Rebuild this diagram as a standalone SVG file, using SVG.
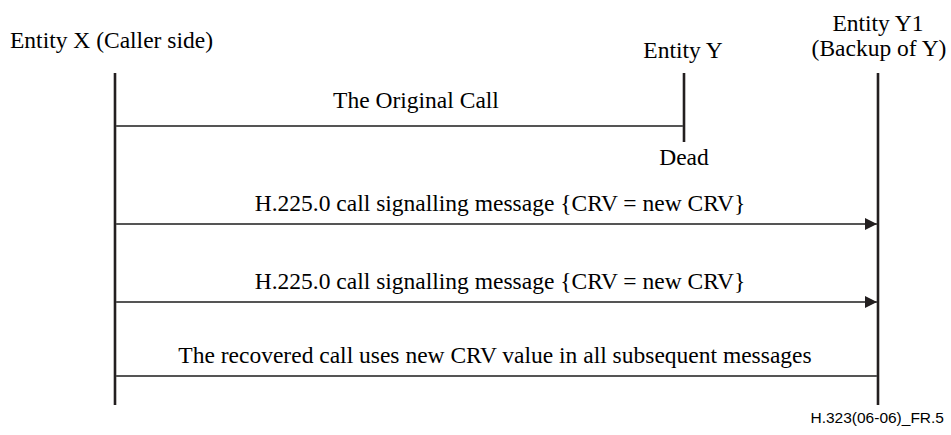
<svg xmlns="http://www.w3.org/2000/svg" width="951" height="435" viewBox="0 0 951 435">
<style>
.t{font-family:"Liberation Serif","Times New Roman",serif;font-size:23.5px;fill:#000}
.life{stroke:#231f20;stroke-width:2.6;fill:none}
.msg{stroke:#555;stroke-width:1.8;fill:none}
.ref{font-family:"Liberation Sans",Arial,sans-serif;font-size:15.5px;fill:#000}
</style>
<defs>
<marker id="ah" markerWidth="12" markerHeight="12" refX="12" refY="6" orient="auto" markerUnits="userSpaceOnUse">
<path d="M0,0 L12,6 L0,12 Z" fill="#231f20"/>
</marker>
</defs>
<rect width="951" height="435" fill="#fff"/>
<g id="entityX">
<text class="t" x="10" y="48">Entity X (Caller side)</text>
<line class="life" x1="115" y1="73" x2="115" y2="405"/>
</g>
<g id="entityY">
<text class="t" x="683" y="58" text-anchor="middle">Entity Y</text>
<line class="life" x1="684" y1="73" x2="684" y2="142"/>
<text class="t" x="684" y="165" text-anchor="middle">Dead</text>
</g>
<g id="entityY1">
<text class="t" x="878" y="31" text-anchor="middle">Entity Y1</text>
<text class="t" x="879" y="56" text-anchor="middle">(Backup of Y)</text>
<line class="life" x1="878" y1="73" x2="878" y2="405"/>
</g>
<g id="connectors">
<line class="msg" x1="116" y1="126" x2="683" y2="126"/>
<text class="t" x="416" y="108" text-anchor="middle">The Original Call</text>
<line class="msg" x1="116" y1="224" x2="877" y2="224" marker-end="url(#ah)"/>
<text class="t" x="500" y="211" text-anchor="middle">H.225.0 call signalling message {CRV = new CRV}</text>
<line class="msg" x1="116" y1="302" x2="877" y2="302" marker-end="url(#ah)"/>
<text class="t" x="500" y="289" text-anchor="middle">H.225.0 call signalling message {CRV = new CRV}</text>
<line class="msg" x1="116" y1="376" x2="877" y2="376"/>
<text class="t" x="495" y="363" text-anchor="middle">The recovered call uses new CRV value in all subsequent messages</text>
</g>
<text class="ref" x="944" y="423" text-anchor="end">H.323(06-06)_FR.5</text>
</svg>
